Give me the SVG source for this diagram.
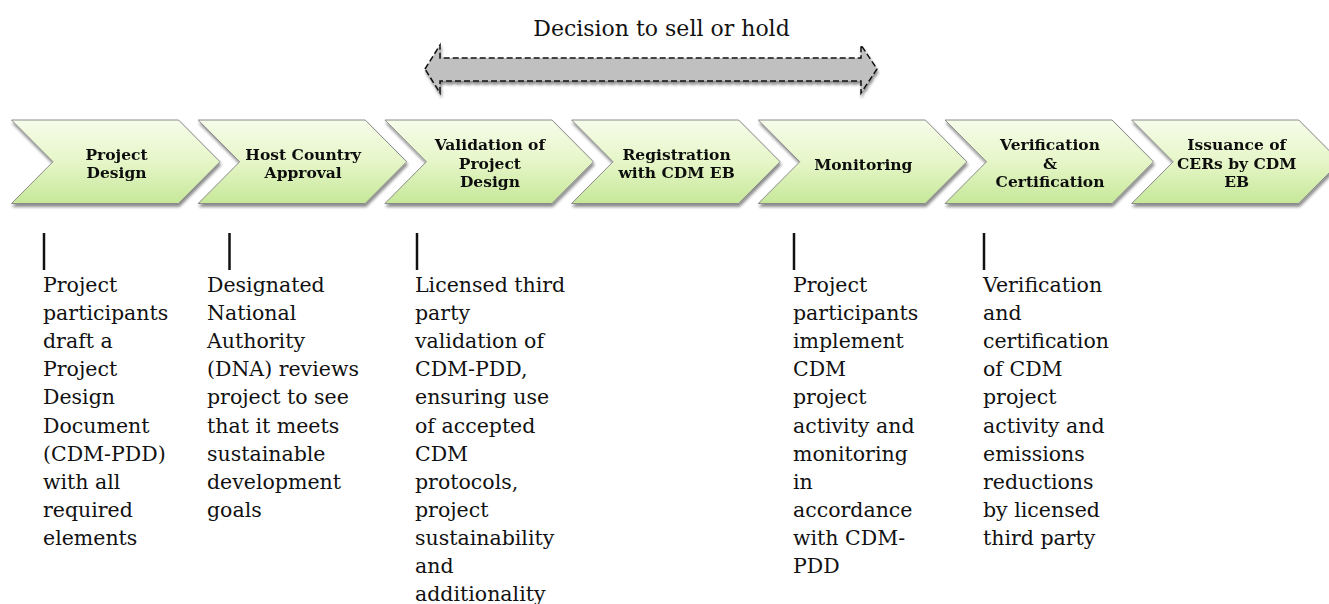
<svg xmlns="http://www.w3.org/2000/svg" width="1329" height="604" viewBox="0 0 1329 604">
  <defs>
    <linearGradient id="stepFill" x1="0" y1="0" x2="0" y2="1">
      <stop offset="0" stop-color="#f6fcea"/>
      <stop offset="0.5" stop-color="#e6f6c8"/>
      <stop offset="1" stop-color="#c6e899"/>
    </linearGradient>
    <filter id="softShadow" x="-5%" y="-10%" width="115%" height="130%">
      <feGaussianBlur in="SourceAlpha" stdDeviation="1.8"/>
      <feOffset dx="1" dy="3" result="blur"/>
      <feComponentTransfer><feFuncA type="linear" slope="0.45"/></feComponentTransfer>
      <feMerge><feMergeNode/><feMergeNode in="SourceGraphic"/></feMerge>
    </filter>
    <!-- one chevron step, origin at its top-left corner -->
    <polygon id="chevron" points="0,0 167,0 208.5,41.75 167,83.5 0,83.5 41.5,41.75"/>
  </defs>
  <style>
    .step { fill: url(#stepFill); stroke: #8a8a8a; stroke-width: 1; }
    .stepLabel { font-family: "DejaVu Serif", "Liberation Serif", serif; font-weight: bold; font-size: 15.5px; fill: #111; text-anchor: middle; }
    .body { font-family: "DejaVu Serif", "Liberation Serif", serif; font-size: 20.5px; fill: #111; }
    .title { font-family: "DejaVu Serif", "Liberation Serif", serif; font-size: 22px; fill: #111; text-anchor: middle; }
    .tick { stroke: #111; stroke-width: 2.5; }
  </style>

  <rect width="1329" height="604" fill="#ffffff"/>

  <!-- heading over the span arrow -->
  <text class="title" x="661.5" y="36">Decision to sell or hold</text>

  <!-- double-headed span arrow -->
  <g id="connectors">
    <path d="M425,69 L440,45 L440,58 L861,58 L861,45 L877,69 L861,93 L861,81 L440,81 L440,93 Z"
          fill="#c0c0c0" stroke="#111" stroke-width="1.5" stroke-dasharray="6 3" stroke-linejoin="miter" filter="url(#softShadow)"/>
  </g>

  <!-- process steps -->
  <g id="step-project-design" filter="url(#softShadow)">
    <use href="#chevron" class="step" x="11.5" y="120"/>
    <text class="stepLabel"><tspan x="116.5" y="159.5">Project</tspan><tspan x="116.5" y="177.9">Design</tspan></text>
  </g>
  <g id="step-host-country" filter="url(#softShadow)">
    <use href="#chevron" class="step" x="198.2" y="120"/>
    <text class="stepLabel"><tspan x="303.2" y="159.5">Host Country</tspan><tspan x="303.2" y="177.9">Approval</tspan></text>
  </g>
  <g id="step-validation" filter="url(#softShadow)">
    <use href="#chevron" class="step" x="384.9" y="120"/>
    <text class="stepLabel"><tspan x="489.9" y="150.3">Validation of</tspan><tspan x="489.9" y="168.7">Project</tspan><tspan x="489.9" y="187.1">Design</tspan></text>
  </g>
  <g id="step-registration" filter="url(#softShadow)">
    <use href="#chevron" class="step" x="571.6" y="120"/>
    <text class="stepLabel"><tspan x="676.6" y="159.5">Registration</tspan><tspan x="676.6" y="177.9">with CDM EB</tspan></text>
  </g>
  <g id="step-monitoring" filter="url(#softShadow)">
    <use href="#chevron" class="step" x="758.3" y="120"/>
    <text class="stepLabel" x="863.3" y="170.3">Monitoring</text>
  </g>
  <g id="step-verification" filter="url(#softShadow)">
    <use href="#chevron" class="step" x="945" y="120"/>
    <text class="stepLabel"><tspan x="1050" y="150.3">Verification</tspan><tspan x="1050" y="168.7">&amp;</tspan><tspan x="1050" y="187.1">Certification</tspan></text>
  </g>
  <g id="step-issuance" filter="url(#softShadow)">
    <use href="#chevron" class="step" x="1131.7" y="120"/>
    <text class="stepLabel"><tspan x="1236.7" y="150.3">Issuance of</tspan><tspan x="1236.7" y="168.7">CERs by CDM</tspan><tspan x="1236.7" y="187.1">EB</tspan></text>
  </g>

  <!-- step descriptions -->
  <g id="note-project-design">
    <line class="tick" x1="44" y1="233" x2="44" y2="270"/>
    <text class="body">
      <tspan x="43" y="292">Project</tspan>
      <tspan x="43" y="320.1">participants</tspan>
      <tspan x="43" y="348.2">draft a</tspan>
      <tspan x="43" y="376.3">Project</tspan>
      <tspan x="43" y="404.4">Design</tspan>
      <tspan x="43" y="432.5">Document</tspan>
      <tspan x="43" y="460.6">(CDM-PDD)</tspan>
      <tspan x="43" y="488.7">with all</tspan>
      <tspan x="43" y="516.8">required</tspan>
      <tspan x="43" y="544.9">elements</tspan>
    </text>
  </g>
  <g id="note-host-country">
    <line class="tick" x1="229.5" y1="233" x2="229.5" y2="270"/>
    <text class="body">
      <tspan x="207" y="292">Designated</tspan>
      <tspan x="207" y="320.1">National</tspan>
      <tspan x="207" y="348.2">Authority</tspan>
      <tspan x="207" y="376.3">(DNA) reviews</tspan>
      <tspan x="207" y="404.4">project to see</tspan>
      <tspan x="207" y="432.5">that it meets</tspan>
      <tspan x="207" y="460.6">sustainable</tspan>
      <tspan x="207" y="488.7">development</tspan>
      <tspan x="207" y="516.8">goals</tspan>
    </text>
  </g>
  <g id="note-validation">
    <line class="tick" x1="417" y1="233" x2="417" y2="270"/>
    <text class="body">
      <tspan x="415" y="292">Licensed third</tspan>
      <tspan x="415" y="320.1">party</tspan>
      <tspan x="415" y="348.2">validation of</tspan>
      <tspan x="415" y="376.3">CDM-PDD,</tspan>
      <tspan x="415" y="404.4">ensuring use</tspan>
      <tspan x="415" y="432.5">of accepted</tspan>
      <tspan x="415" y="460.6">CDM</tspan>
      <tspan x="415" y="488.7">protocols,</tspan>
      <tspan x="415" y="516.8">project</tspan>
      <tspan x="415" y="544.9">sustainability</tspan>
      <tspan x="415" y="573">and</tspan>
      <tspan x="415" y="601.1">additionality</tspan>
    </text>
  </g>
  <g id="note-monitoring">
    <line class="tick" x1="794" y1="233" x2="794" y2="270"/>
    <text class="body">
      <tspan x="793" y="292">Project</tspan>
      <tspan x="793" y="320.1">participants</tspan>
      <tspan x="793" y="348.2">implement</tspan>
      <tspan x="793" y="376.3">CDM</tspan>
      <tspan x="793" y="404.4">project</tspan>
      <tspan x="793" y="432.5">activity and</tspan>
      <tspan x="793" y="460.6">monitoring</tspan>
      <tspan x="793" y="488.7">in</tspan>
      <tspan x="793" y="516.8">accordance</tspan>
      <tspan x="793" y="544.9">with CDM-</tspan>
      <tspan x="793" y="573">PDD</tspan>
    </text>
  </g>
  <g id="note-verification">
    <line class="tick" x1="984" y1="233" x2="984" y2="270"/>
    <text class="body">
      <tspan x="983" y="292">Verification</tspan>
      <tspan x="983" y="320.1">and</tspan>
      <tspan x="983" y="348.2">certification</tspan>
      <tspan x="983" y="376.3">of CDM</tspan>
      <tspan x="983" y="404.4">project</tspan>
      <tspan x="983" y="432.5">activity and</tspan>
      <tspan x="983" y="460.6">emissions</tspan>
      <tspan x="983" y="488.7">reductions</tspan>
      <tspan x="983" y="516.8">by licensed</tspan>
      <tspan x="983" y="544.9">third party</tspan>
    </text>
  </g>
</svg>
